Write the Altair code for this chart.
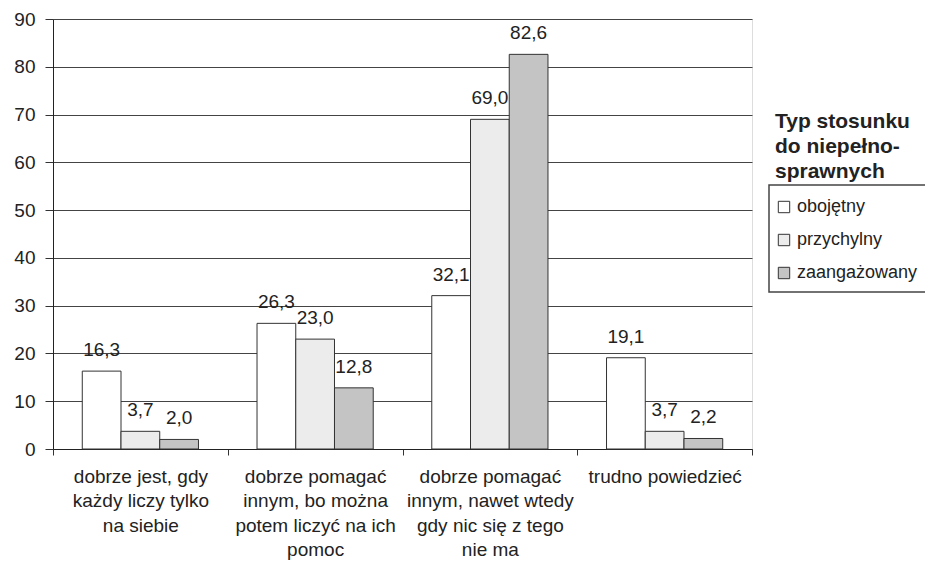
import altair as alt
import pandas as pd

categories = [
    "dobrze jest, gdy\nkażdy liczy tylko\nna siebie",
    "dobrze pomagać\ninnym, bo można\npotem liczyć na ich\npomoc",
    "dobrze pomagać\ninnym, nawet wtedy\ngdy nic się z tego\nnie ma",
    "trudno powiedzieć",
]
series = ["obojętny", "przychylny", "zaangażowany"]
obojetny = [16.3, 26.3, 32.1, 19.1]
przychylny = [3.7, 23.0, 69.0, 3.7]
zaangazowany = [2.0, 12.8, 82.6, 2.2]
colors = ["#ffffff", "#ececec", "#c4c4c4"]
y_ticks = list(range(0, 91, 10))

rows = []
for s, vals in zip(series, [obojetny, przychylny, zaangazowany]):
    for c, v in zip(categories, vals):
        rows.append({"kategoria": c, "typ": s, "wartosc": v})
df = pd.DataFrame(rows)

FONT = "Liberation Sans"
TXT = "#222"

x_enc = alt.X(
    "kategoria:N",
    sort=categories,
    scale=alt.Scale(paddingInner=0, paddingOuter=0),
    axis=alt.Axis(
        title=None,
        labelAngle=0,
        labelExpr="split(datum.label, '\\n')",
        labelFontSize=19,
        labelLineHeight=24.5,
        labelPadding=12,
        labelColor=TXT,
        labelFont=FONT,
        tickBand="extent",
        tickSize=6,
        tickColor="#333",
        domainColor="#222",
        labelLimit=300,
    ),
)
xoff = alt.XOffset("typ:N", sort=series, scale=alt.Scale(paddingInner=0, paddingOuter=0.756))
y_enc = alt.Y(
    "wartosc:Q",
    scale=alt.Scale(domain=[0, 90], nice=False),
    axis=alt.Axis(
        title=None,
        values=y_ticks,
        labelFontSize=19,
        labelColor=TXT,
        labelFont=FONT,
        labelPadding=10,
        tickSize=8,
        tickColor="#333",
        domainColor="#222",
        gridColor="#444",
        gridWidth=1,
    ),
)

bars = alt.Chart(df).mark_bar(stroke="#333", strokeWidth=1).encode(
    x=x_enc,
    xOffset=xoff,
    y=y_enc,
    color=alt.Color(
        "typ:N",
        sort=series,
        scale=alt.Scale(domain=series, range=colors),
        legend=alt.Legend(
            title=["Typ stosunku", "do niepełno-", "sprawnych"],
            orient="none",
            legendX=722,
            legendY=92,
            titleFont=FONT,
            titleFontSize=21,
            titleFontWeight="bold",
            titleColor=TXT,
            titleLineHeight=25,
            titlePadding=16,
            labelFont=FONT,
            labelFontSize=18,
            labelColor=TXT,
            symbolType="square",
            symbolSize=130,
            symbolStrokeColor="#333",
            symbolStrokeWidth=1,
            rowPadding=15,
            labelOffset=4,
        ),
    ),
)

labels = alt.Chart(df).transform_calculate(
    etykieta="replace(format(datum.wartosc, '.1f'), '.', ',')"
).mark_text(baseline="alphabetic", dy=-15, fontSize=19, font=FONT, color=TXT).encode(
    x=alt.X("kategoria:N", sort=categories),
    xOffset=alt.XOffset("typ:N", sort=series),
    y=alt.Y("wartosc:Q"),
    text="etykieta:N",
)

box = alt.Chart(pd.DataFrame({"k": [0]})).mark_rect(
    fill=None, stroke="#444", strokeWidth=1.5
).encode(
    x=alt.value(716), x2=alt.value(895), y=alt.value(166), y2=alt.value(273)
)

chart = alt.layer(bars, labels, box).properties(
    width=699,
    height=430,
    autosize=alt.AutoSizeParams(type="none"),
    padding={"left": 45, "top": 11, "right": 173, "bottom": 111},
).configure_view(stroke="#c8c8c8").configure(background="white")

chart.save("out.html", embed_options={"renderer": "svg", "actions": False})
